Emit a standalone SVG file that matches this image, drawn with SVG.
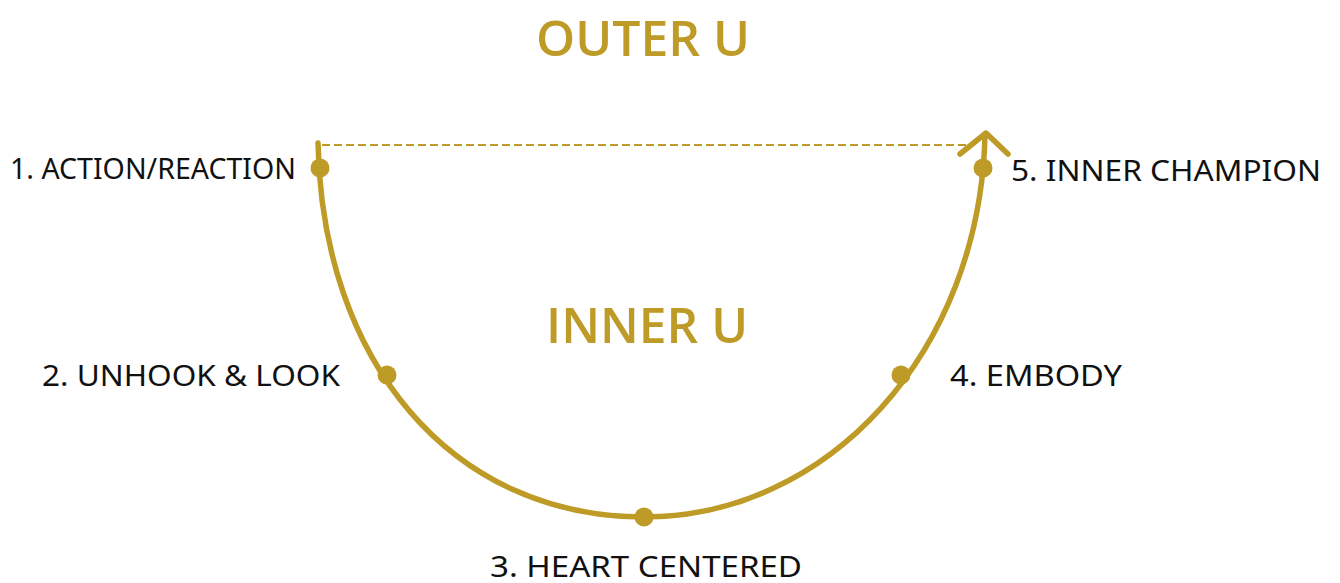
<svg xmlns="http://www.w3.org/2000/svg" width="1340" height="583" viewBox="0 0 1340 583">
<style>
.title{font-family:"Open Sans","Liberation Sans",sans-serif;font-weight:600;fill:#BE9A26;font-size:48px}
.lbl{font-family:"Noto Sans","Open Sans","Liberation Sans",sans-serif;font-weight:400;fill:#111;font-size:29px}
.curve{fill:none;stroke:#BE9A26;stroke-width:5.5;stroke-linecap:round;stroke-linejoin:round}
.dash{fill:none;stroke:#BE9A26;stroke-width:2;stroke-dasharray:8 4}
.dot{fill:#BE9A26}
</style>
<rect width="1340" height="583" fill="#ffffff"/>
<g id="titles">
<text class="title" x="536" y="56" textLength="214" lengthAdjust="spacingAndGlyphs">OUTER U</text>
<text class="title" x="546" y="343" textLength="202" lengthAdjust="spacingAndGlyphs">INNER U</text>
</g>
<g id="connectors">
<path class="dash" d="M322,145 H968"/>
<path class="curve" d="M318,143 C322,360 450,517 644,517 C828,517 980,352 985,135"/>
<path class="curve" d="M960,154 L986,133 L1008,154"/>
</g>
<g id="node1"><circle class="dot" cx="320" cy="168" r="9.5"/><text class="lbl" x="10" y="179" textLength="286" lengthAdjust="spacingAndGlyphs">1. ACTION/REACTION</text></g>
<g id="node2"><circle class="dot" cx="387" cy="375" r="9.5"/><text class="lbl" x="42" y="386" textLength="298" lengthAdjust="spacingAndGlyphs">2. UNHOOK &amp; LOOK</text></g>
<g id="node3"><circle class="dot" cx="644" cy="517" r="9.5"/><text class="lbl" x="490" y="577" textLength="312" lengthAdjust="spacingAndGlyphs">3. HEART CENTERED</text></g>
<g id="node4"><circle class="dot" cx="901" cy="375" r="9.5"/><text class="lbl" x="950" y="386" textLength="172" lengthAdjust="spacingAndGlyphs">4. EMBODY</text></g>
<g id="node5"><circle class="dot" cx="983" cy="168" r="9.5"/><text class="lbl" x="1011" y="181" textLength="310" lengthAdjust="spacingAndGlyphs">5. INNER CHAMPION</text></g>
</svg>
